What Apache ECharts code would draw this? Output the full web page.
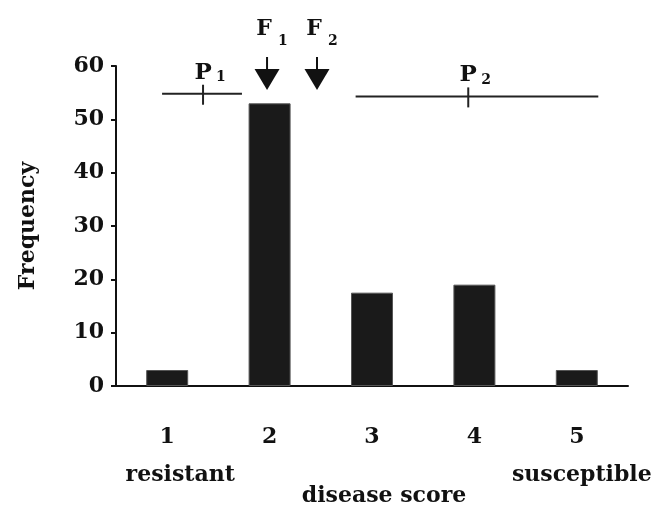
<!DOCTYPE html>
<html>
<head>
<meta charset="utf-8">
<script src="https://cdn.jsdelivr.net/npm/echarts@6/dist/echarts.min.js"></script>
<style>
  html, body { margin: 0; padding: 0; background: #fff; }
  #chart { width: 661px; height: 507px; }
</style>
</head>
<body>
<div id="chart"></div>
<script>
// 柱状图数据
const scores = ['1', '2', '3', '4', '5'];
const frequency = [3, 53, 17.5, 19, 3];
const endLabels = { '1': 'resistant', '5': 'susceptible' };

// 亲本 P1 / P2 范围线 (x 为病害评分)
const parentNames = ['1', '2'];
const parentFrom = [0.95, 2.84];
const parentTo = [1.73, 5.21];
const parentMean = [1.35, 3.94];
const parentLevel = [54.8, 54.3];

// F1 / F2 箭头
const filialNames = ['1', '2'];
const filialMean = [1.975, 2.463];
const filialTip = [55.5, 55.5];

const serif = '"DejaVu Serif", "Liberation Serif", serif';
const bold = { fontFamily: serif, fontWeight: 'bold', fontSize: 22, color: '#111' };

let mychart = echarts.init(document.getElementById('chart'));

let options = {
    backgroundColor: '#fff',
    animation: false,
    grid: { left: 116, right: 33, top: 66, bottom: 121, containLabel: false, outerBoundsMode: 'none' },
    xAxis: [{
        type: 'category',
        data: scores,
        axisLine: { lineStyle: { color: '#111', width: 2 } },
        axisTick: { show: false },
        axisLabel: {
            interval: 0,
            hideOverlap: false,
            margin: 32,
            formatter: function (v) {
                if (v === '1') return '{n|' + v + '}\n{wl|' + endLabels[v] + '}';
                if (v === '5') return '{n|' + v + '}\n{wr|' + endLabels[v] + '}';
                return '{n|' + v + '}';
            },
            rich: {
                n: Object.assign({}, bold, { lineHeight: 38 }),
                wl: Object.assign({}, bold, { lineHeight: 38, padding: [0, 0, 0, 26] }),
                wr: Object.assign({}, bold, { lineHeight: 38, padding: [0, 0, 0, 10] })
            }
        },
        name: 'disease score',
        nameLocation: 'middle',
        nameGap: 99,
        nameMoveOverlap: false,
        nameTextStyle: Object.assign({}, bold, { padding: [0, 0, 0, 24] })
    }, {
        type: 'value',
        min: 0.5,
        max: 5.5,
        show: false
    }],
    yAxis: {
        type: 'value',
        min: 0,
        max: 60,
        interval: 10,
        name: 'Frequency',
        nameLocation: 'middle',
        nameRotate: 90,
        nameGap: 77,
        nameMoveOverlap: false,
        nameTextStyle: bold,
        axisLine: { show: true, lineStyle: { color: '#111', width: 2 } },
        axisTick: { show: true, length: 5, lineStyle: { color: '#111', width: 2 } },
        axisLabel: Object.assign({ margin: 12 }, bold),
        splitLine: { show: false }
    },
    series: [{
        type: 'bar',
        data: frequency,
        barWidth: '41%',
        itemStyle: { color: '#1a1a1a', borderColor: '#555', borderWidth: 1 }
    }, {
        // P1 / P2
        type: 'custom',
        xAxisIndex: 1,
        clip: false,
        encode: { x: [0, 1, 2], y: 3 },
        data: parentFrom.map((f, i) => [f, parentTo[i], parentMean[i], parentLevel[i]]),
        renderItem: function (params, api) {
            let a = api.coord([api.value(0), api.value(3)]);
            let b = api.coord([api.value(1), api.value(3)]);
            let t = api.coord([api.value(2), api.value(3)]);
            return {
                type: 'group',
                children: [
                    { type: 'line', shape: { x1: a[0], y1: a[1], x2: b[0], y2: b[1] }, style: { stroke: '#222', lineWidth: 2 } },
                    { type: 'line', shape: { x1: t[0], y1: t[1] - 9, x2: t[0], y2: t[1] + 11 }, style: { stroke: '#222', lineWidth: 2 } },
                    { type: 'text', x: t[0], y: t[1] - 21, style: { text: 'P', font: 'bold 23px ' + serif, fill: '#111', align: 'center', verticalAlign: 'middle' } },
                    { type: 'text', x: t[0] + 13, y: t[1] - 16, style: { text: parentNames[params.dataIndex], font: 'bold 14px ' + serif, fill: '#111', align: 'left', verticalAlign: 'middle' } }
                ]
            };
        }
    }, {
        // F1 / F2 箭头
        type: 'custom',
        xAxisIndex: 1,
        clip: false,
        encode: { x: 0, y: 1 },
        data: filialMean.map((m, i) => [m, filialTip[i]]),
        renderItem: function (params, api) {
            let p = api.coord([api.value(0), api.value(1)]);
            let x = p[0], y = p[1];
            return {
                type: 'group',
                children: [
                    { type: 'line', shape: { x1: x, y1: y - 33, x2: x, y2: y - 20 }, style: { stroke: '#111', lineWidth: 2 } },
                    { type: 'polygon', shape: { points: [[x - 12.5, y - 21], [x + 12.5, y - 21], [x, y]] }, style: { fill: '#111' } },
                    { type: 'text', x: x - 3, y: y - 60.5, style: { text: 'F', font: 'bold 22px ' + serif, fill: '#111', align: 'center', verticalAlign: 'middle' } },
                    { type: 'text', x: x + 11, y: y - 49, style: { text: filialNames[params.dataIndex], font: 'bold 14px ' + serif, fill: '#111', align: 'left', verticalAlign: 'middle' } }
                ]
            };
        }
    }]
};

mychart.setOption(options);
</script>
</body>
</html>
